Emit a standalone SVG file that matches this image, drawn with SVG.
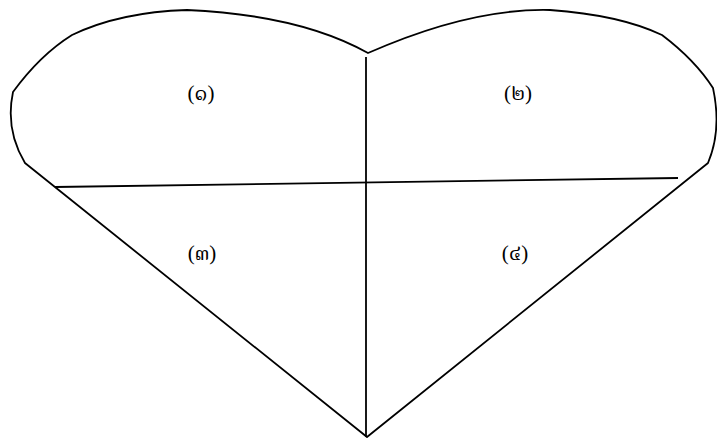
<svg xmlns="http://www.w3.org/2000/svg" width="717" height="438" viewBox="0 0 717 438">
<style>
.ln{fill:none;stroke:#000;stroke-width:1.8;stroke-linejoin:round}
.lb{font-family:"Liberation Serif","Noto Serif Thai","Noto Sans Thai","DejaVu Serif",serif;font-size:21px;fill:#000;text-anchor:middle;dominant-baseline:central}
</style>
<rect width="717" height="438" fill="#fff"/>
<g id="heart">
<path class="ln" d="M368,53 Q300,15 187,10 Q120,12 72,35 Q40,55 13,92 Q5,130 25,163 L367,437 L708,163 Q722,130 713,88 Q695,60 662,35 Q620,15 550,10 Q470,8 368,53 Z"/>
</g>
<g id="connectors">
<line class="ln" x1="366" y1="57" x2="366" y2="437"/>
<line class="ln" x1="55" y1="187" x2="678" y2="178"/>
</g>
<g id="n1"><text class="lb" x="201" y="93">(๑)</text></g>
<g id="n2"><text class="lb" x="518" y="93">(๒)</text></g>
<g id="n3"><text class="lb" x="202" y="253">(๓)</text></g>
<g id="n4"><text class="lb" x="515" y="253">(๔)</text></g>
</svg>
